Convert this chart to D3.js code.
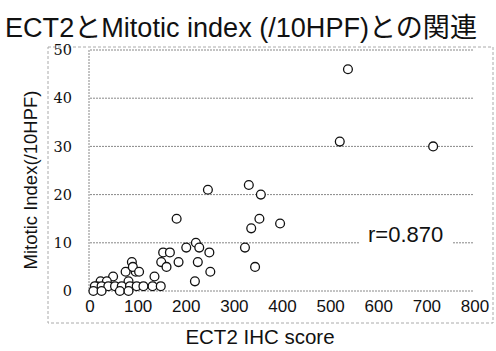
<!DOCTYPE html>
<html>
<head>
	<meta charset="utf-8">
	<script src="https://cdnjs.cloudflare.com/ajax/libs/d3/7.8.5/d3.min.js"></script>
	<style>
	body { margin: 0; background: #fff; }
	.grid line { stroke: #888; stroke-width: 1; stroke-dasharray: 2,1; }
	.dot { fill: #fff; stroke: #111; stroke-width: 1.3; }
	</style>
</head>
<body>
	<svg width="496" height="351"></svg>
	<script>
	// data
	let ihcScore = [536, 519, 713,
		245, 330, 355, 180, 352, 395, 335, 220, 200, 227, 248, 322, 152, 166,
		148, 159, 184, 224, 250, 343, 218, 134, 130, 147,
		87, 74, 95, 89, 102, 48, 22, 35, 80, 14,
		10, 24, 38, 52, 66, 83, 97, 111,
		7, 24, 62, 80];
	let mitoticIndex = [46, 31, 30,
		21, 22, 20, 15, 15, 14, 13, 10, 9, 9, 8, 9, 8, 8,
		6, 5, 6, 6, 4, 5, 2, 3, 1, 1,
		6, 4, 4, 5, 4, 3, 2, 2, 2, 1,
		1, 1, 1, 1, 1, 1, 1, 1,
		0, 0, 0, 0];
	let xTicks = [0, 100, 200, 300, 400, 500, 600, 700, 800];
	let yTicks = [0, 10, 20, 30, 40, 50];

	let svg = d3.select("svg");

	//scales
	let x = d3.scaleLinear().domain([0, 800]).range([90, 475]),
		y = d3.scaleLinear().domain([0, 50]).range([291, 50]);

	//chart area border
	svg.append("rect")
		.attr("x", 48).attr("y", 47)
		.attr("width", 445).attr("height", 276)
		.attr("fill", "none")
		.attr("stroke", "#aaa")
		.attr("stroke-dasharray", "3,2");

	//horizontal gridlines
	svg.append("g")
		.attr("class", "grid")
		.selectAll("line")
		.data(yTicks)
		.enter().append("line")
		.attr("x1", x(0)).attr("x2", x(800) - 2)
		.attr("y1", d => y(d)).attr("y2", d => y(d));

	//left axis line
	svg.append("g")
		.attr("class", "grid")
		.append("line")
		.attr("x1", x(0) - 1).attr("x2", x(0) - 1)
		.attr("y1", y(50)).attr("y2", y(0));

	//y tick labels
	svg.append("g")
		.selectAll("text")
		.data(yTicks)
		.enter().append("text")
		.attr("x", 72)
		.attr("y", d => y(d))
		.attr("dy", "0.36em")
		.attr("text-anchor", "end")
		.style("font", "14.5px 'DejaVu Serif'")
		.attr("fill", "#111")
		.text(d => d);

	//x tick labels
	svg.append("g")
		.selectAll("text")
		.data(xTicks)
		.enter().append("text")
		.attr("x", d => x(d))
		.attr("y", 312)
		.attr("text-anchor", "middle")
		.style("font", "17px 'Liberation Sans'")
		.attr("fill", "#111")
		.text(d => d);

	//points
	svg.append("g")
		.selectAll("circle")
		.data(d3.range(ihcScore.length))
		.enter().append("circle")
		.attr("class", "dot")
		.attr("cx", i => x(ihcScore[i]))
		.attr("cy", i => y(mitoticIndex[i]))
		.attr("r", 4.4);

	//correlation label
	svg.append("rect")
		.attr("x", 360).attr("y", 224)
		.attr("width", 92).attr("height", 24)
		.attr("fill", "#fff");
	svg.append("text")
		.attr("x", 368)
		.attr("y", 242)
		.style("font", "22px 'Liberation Sans'")
		.attr("fill", "#111")
		.text("r=0.870");

	//axis titles
	svg.append("text")
		.attr("x", 260)
		.attr("y", 344)
		.attr("text-anchor", "middle")
		.style("font", "20.5px 'Liberation Sans'")
		.attr("fill", "#111")
		.text("ECT2 IHC score");

	svg.append("text")
		.attr("transform", "translate(37,180) rotate(-90)")
		.attr("text-anchor", "middle")
		.style("font", "18.5px 'Liberation Sans'")
		.attr("fill", "#111")
		.text("Mitotic Index(/10HPF)");

	//title
	svg.append("text")
		.attr("x", 5)
		.attr("y", 37)
		.attr("textLength", 472)
		.attr("lengthAdjust", "spacingAndGlyphs")
		.style("font", "27px 'Liberation Sans', 'Noto Sans CJK JP'")
		.attr("fill", "#111")
		.text("ECT2とMitotic index (/10HPF)との関連");
	</script>
</body>
</html>
